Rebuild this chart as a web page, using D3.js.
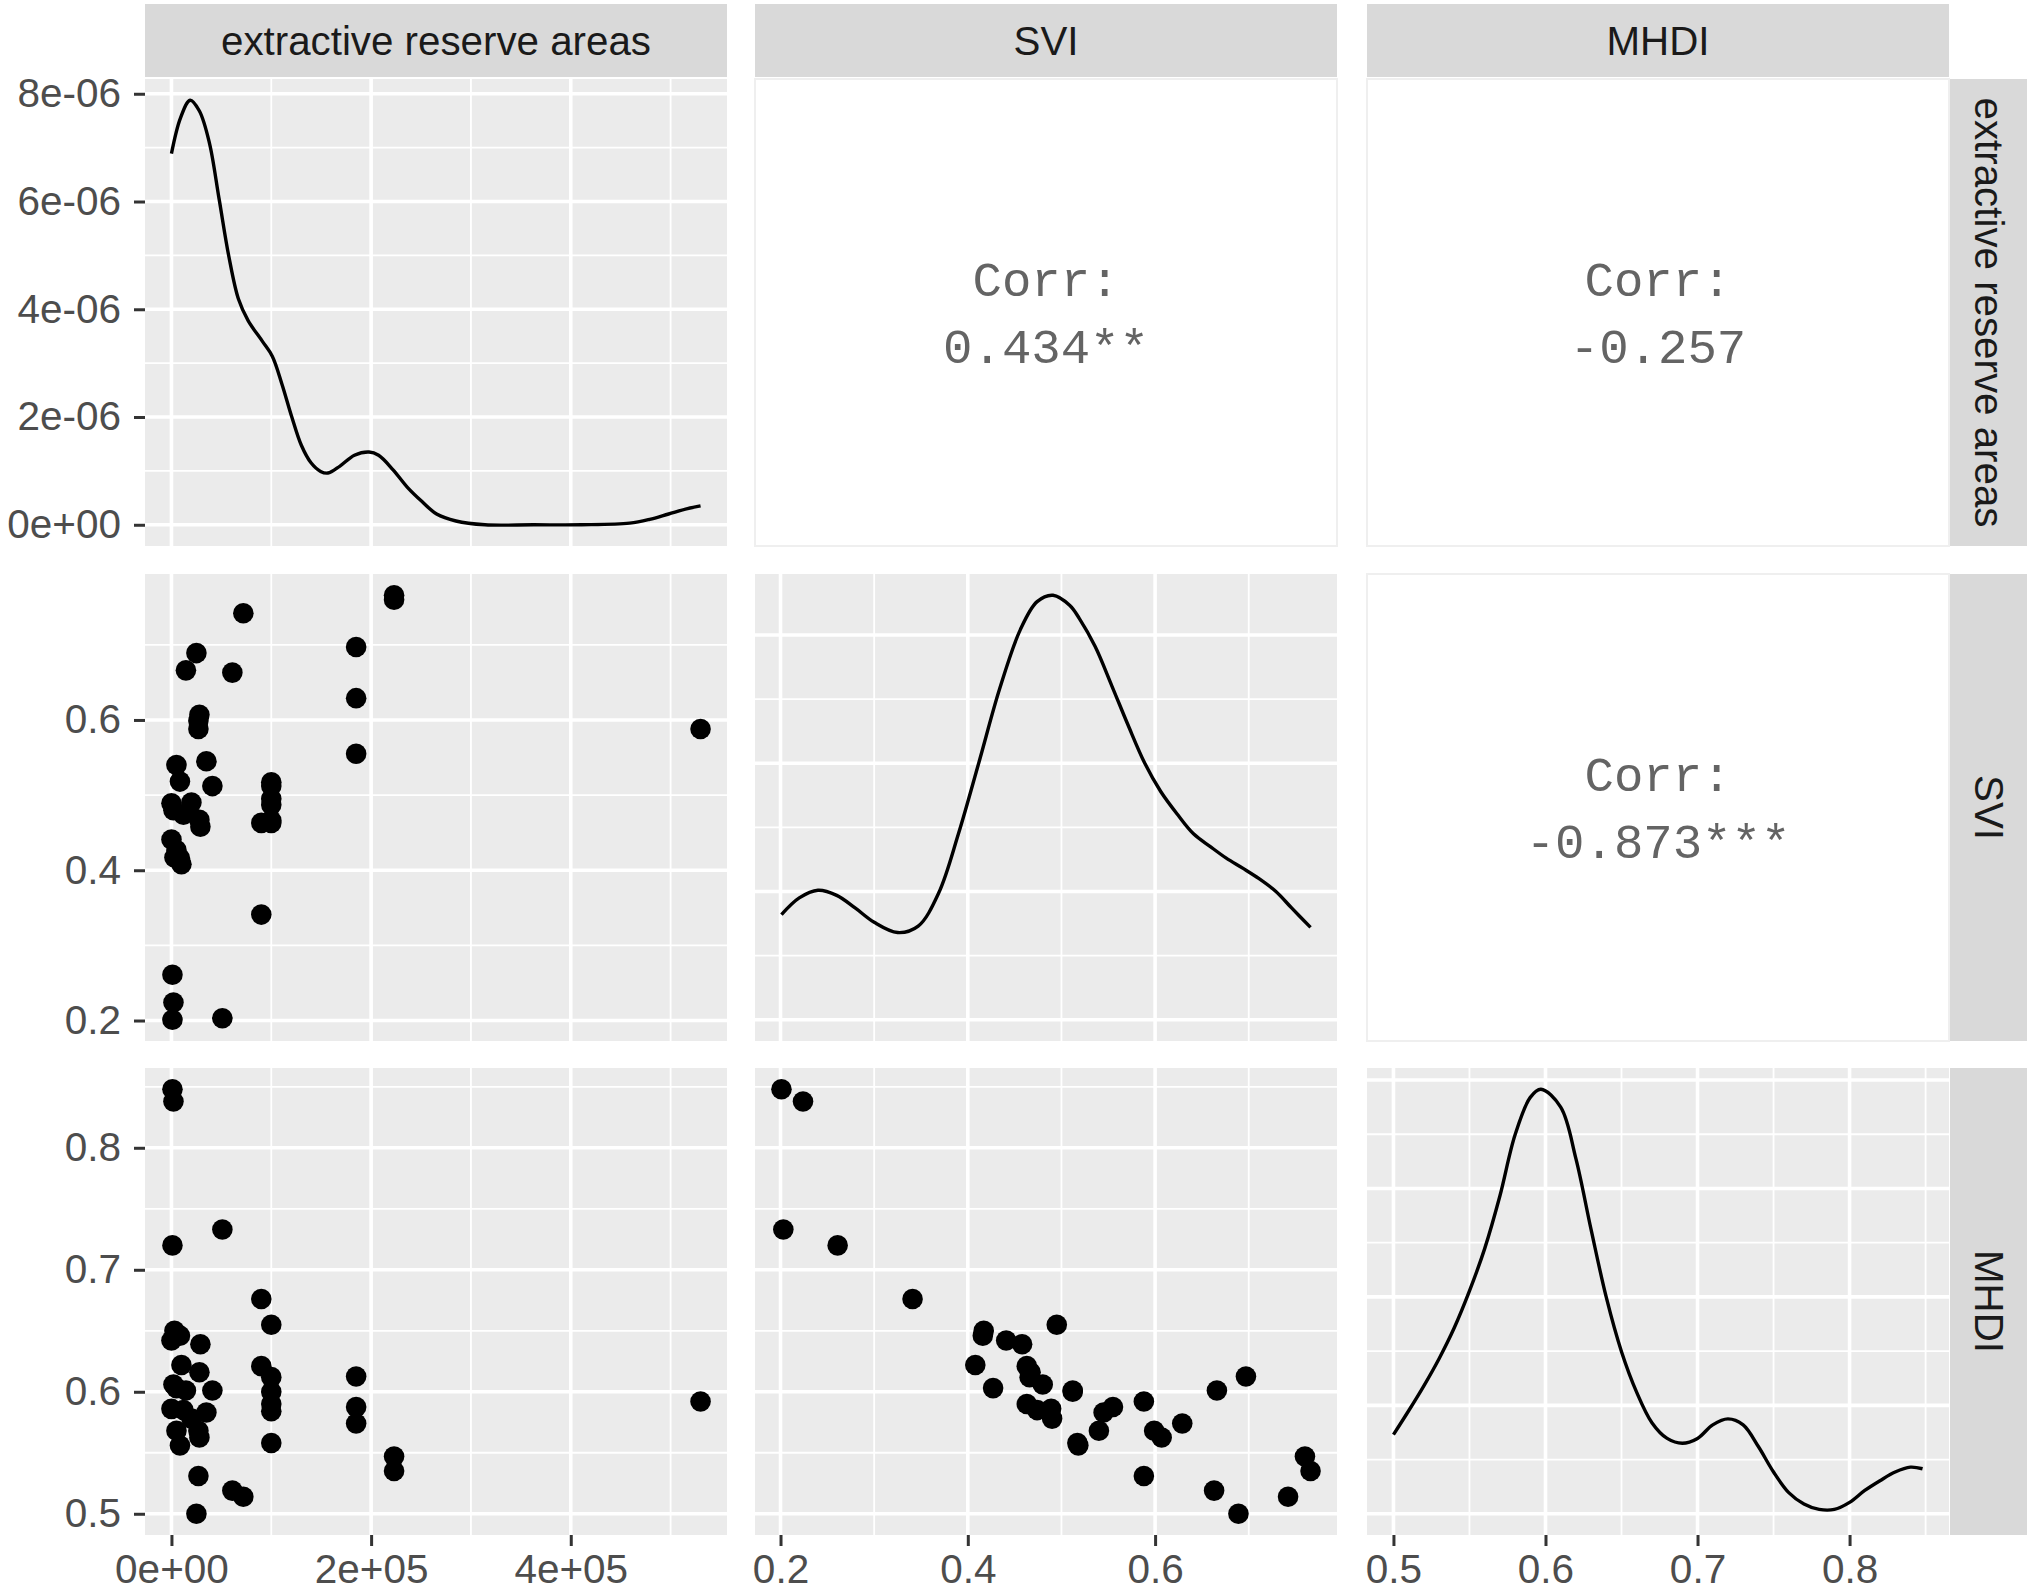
<!DOCTYPE html>
<html><head><meta charset="utf-8">
<script src="https://cdn.jsdelivr.net/npm/d3@7/dist/d3.min.js"></script>
<style>body{margin:0;background:#fff}svg{display:block}</style>
</head><body>
<svg id="chart" width="2033" height="1595"></svg>
<script>
// ---------------- DATA ----------------
const variables = ["extractive reserve areas", "SVI", "MHDI"];

const areaValues = [1000, 2000, 51000, 1000, 90000, 3000, 0, 29000, 100000, 10000,
  8500, 5000, 90000, 100000, 2000, 20000, 12000, 28000, 100000, 100000,
  100000, 100000, 41000, 35000, 5000, 8500, 185000, 185000, 185000, 530000,
  223000, 223000, 72000, 61000, 25000, 14500, 27000, 27000, 28000, 0];
const sviValues = [0.201, 0.224, 0.203, 0.261, 0.341, 0.417, 0.441, 0.458, 0.495, 0.408,
  0.416, 0.427, 0.463, 0.466, 0.480, 0.490, 0.474, 0.467, 0.512, 0.463,
  0.487, 0.517, 0.512, 0.545, 0.540, 0.518, 0.697, 0.629, 0.555, 0.588,
  0.760, 0.766, 0.742, 0.663, 0.689, 0.666, 0.588, 0.599, 0.607, 0.489];
const mhdiValues = [0.848, 0.838, 0.733, 0.720, 0.676, 0.650, 0.642, 0.639, 0.655, 0.622,
  0.646, 0.603, 0.621, 0.612, 0.606, 0.578, 0.585, 0.616, 0.600, 0.590,
  0.584, 0.558, 0.601, 0.583, 0.568, 0.556, 0.6125, 0.574, 0.5875, 0.592,
  0.547, 0.535, 0.514, 0.519, 0.500, 0.601, 0.531, 0.568, 0.5625, 0.586];

// density curves
const areaDensX = [0, 9000, 18700, 28000, 38000, 47800, 57500, 67100, 76800, 91300,
  101000, 110700, 120400, 130000, 139800, 149400, 156700, 168800, 183300, 197900,
  207500, 222000, 236600, 251000, 265600, 285000, 314000, 363000, 411000, 459000,
  479000, 498000, 517000, 530000];
const areaDensY = [6.89e-6, 7.55e-6, 7.88e-6, 7.68e-6, 7.09e-6, 6.04e-6, 4.98e-6, 4.19e-6, 3.79e-6, 3.40e-6,
  3.13e-6, 2.61e-6, 2.01e-6, 1.48e-6, 1.15e-6, 0.99e-6, 0.96e-6, 1.09e-6, 1.29e-6, 1.35e-6,
  1.29e-6, 1.02e-6, 0.69e-6, 0.43e-6, 0.20e-6, 0.07e-6, 0.0, 0.0, 0.0, 0.03e-6,
  0.10e-6, 0.20e-6, 0.30e-6, 0.35e-6];

const sviDensX = [0.201, 0.22, 0.24, 0.26, 0.28, 0.30, 0.325, 0.347, 0.369, 0.39,
  0.412, 0.434, 0.456, 0.474, 0.491, 0.509, 0.519, 0.536, 0.554, 0.571,
  0.589, 0.606, 0.624, 0.641, 0.659, 0.676, 0.694, 0.711, 0.729, 0.746, 0.766];
const sviDensY = [0.82, 0.95, 1.01, 0.97, 0.87, 0.76, 0.68, 0.73, 0.99, 1.45,
  2.01, 2.58, 3.04, 3.26, 3.31, 3.23, 3.13, 2.91, 2.60, 2.30,
  2.00, 1.78, 1.60, 1.45, 1.35, 1.26, 1.18, 1.10, 1.00, 0.87, 0.72];

const mhdiDensX = [0.500, 0.51, 0.52, 0.53, 0.54, 0.55, 0.56, 0.57, 0.58, 0.59,
  0.597, 0.61, 0.62, 0.63, 0.64, 0.65, 0.66, 0.67, 0.68, 0.69,
  0.70, 0.71, 0.72, 0.73, 0.74, 0.75, 0.76, 0.77, 0.78, 0.79,
  0.80, 0.81, 0.82, 0.83, 0.84, 0.848];
const mhdiDensY = [1.46, 1.90, 2.36, 2.86, 3.43, 4.11, 4.89, 5.86, 6.99, 7.68,
  7.83, 7.50, 6.55, 5.24, 3.99, 2.99, 2.24, 1.68, 1.39, 1.30,
  1.39, 1.64, 1.75, 1.64, 1.24, 0.77, 0.39, 0.18, 0.08, 0.08,
  0.21, 0.43, 0.61, 0.77, 0.86, 0.83];

// correlation text (upper panels): row, col, label
const corrRows = [0, 0, 1];
const corrCols = [1, 2, 2];
const corrLabels = ["0.434**", "-0.257", "-0.873***"];

// tick values and labels
const areaTicks = [0, 200000, 400000];
const areaTickLabels = ["0e+00", "2e+05", "4e+05"];
const areaMinor = [100000, 300000, 500000];
const sviTicks = [0.2, 0.4, 0.6];
const sviTickLabels = ["0.2", "0.4", "0.6"];
const sviMinor = [0.3, 0.5, 0.7];
const mhdiTicks = [0.5, 0.6, 0.7, 0.8];
const mhdiTickLabels = ["0.5", "0.6", "0.7", "0.8"];
const mhdiMinor = [0.55, 0.65, 0.75, 0.85];
const areaDensTicks = [0, 2e-6, 4e-6, 6e-6, 8e-6];
const areaDensTickLabels = ["0e+00", "2e-06", "4e-06", "6e-06", "8e-06"];
const areaDensMinor = [1e-6, 3e-6, 5e-6, 7e-6];
const sviDensTicks = [0, 1, 2, 3];
const sviDensMinor = [0.5, 1.5, 2.5];
const mhdiDensTicks = [0, 2, 4, 6, 8];
const mhdiDensMinor = [1, 3, 5, 7];

// ---------------- LAYOUT ----------------
const colX0 = [145, 755, 1367], panelW = 582;
const rowY0 = [79, 574, 1068], panelH = 467;
const stripTop = 4, stripH = 73;
const rStripX = 1950, rStripW = 77;
const FONT = "'Liberation Sans', Arial, Helvetica, sans-serif";
const STRIP_FS = 40.3, TICK_FS = 40.5;

const values = [areaValues, sviValues, mhdiValues];
const majors = [areaTicks, sviTicks, mhdiTicks];
const minors = [areaMinor, sviMinor, mhdiMinor];
const tickLabels = [areaTickLabels, sviTickLabels, mhdiTickLabels];
const densX = [areaDensX, sviDensX, mhdiDensX];
const densY = [areaDensY, sviDensY, mhdiDensY];
const densMajor = [areaDensTicks, sviDensTicks, mhdiDensTicks];
const densMinor = [areaDensMinor, sviDensMinor, mhdiDensMinor];

function expand(ext) { const r = ext[1] - ext[0]; return [ext[0] - 0.05 * r, ext[1] + 0.05 * r]; }

const xScales = values.map((v, j) => d3.scaleLinear().domain(expand(d3.extent(v))).range([colX0[j], colX0[j] + panelW]));
const yScales = values.map((v, i) => d3.scaleLinear().domain(expand(d3.extent(v))).range([rowY0[i] + panelH, rowY0[i]]));
const dScales = densY.map((v, i) => d3.scaleLinear().domain(expand([0, d3.max(v)])).range([rowY0[i] + panelH, rowY0[i]]));

const svg = d3.select("#chart");
svg.append("rect").attr("width", 2033).attr("height", 1595).attr("fill", "#fff");

function inDom(s, v) { const d = s.domain(); return v >= d[0] && v <= d[1]; }

for (let i = 0; i < 3; i++) {
  for (let j = 0; j < 3; j++) {
    const g = svg.append("g");
    const x0 = colX0[j], y0 = rowY0[i];
    if (i < j) {
      g.append("rect").attr("x", x0).attr("y", y0).attr("width", panelW).attr("height", panelH)
        .attr("fill", "#fff").attr("stroke", "#efefef").attr("stroke-width", 2);
      continue;
    }
    g.append("rect").attr("x", x0).attr("y", y0).attr("width", panelW).attr("height", panelH).attr("fill", "#EBEBEB");
    const xs = xScales[j];
    const ys = (i === j) ? dScales[i] : yScales[i];
    const yMaj = (i === j) ? densMajor[i] : majors[i];
    const yMin = (i === j) ? densMinor[i] : minors[i];
    // minor grid
    g.selectAll(null).data(minors[j].filter(v => inDom(xs, v))).enter().append("line")
      .attr("x1", d => xs(d)).attr("x2", d => xs(d)).attr("y1", y0).attr("y2", y0 + panelH)
      .attr("stroke", "#fff").attr("stroke-width", 1.8);
    g.selectAll(null).data(yMin.filter(v => inDom(ys, v))).enter().append("line")
      .attr("y1", d => ys(d)).attr("y2", d => ys(d)).attr("x1", x0).attr("x2", x0 + panelW)
      .attr("stroke", "#fff").attr("stroke-width", 1.8);
    // major grid
    g.selectAll(null).data(majors[j].filter(v => inDom(xs, v))).enter().append("line")
      .attr("x1", d => xs(d)).attr("x2", d => xs(d)).attr("y1", y0).attr("y2", y0 + panelH)
      .attr("stroke", "#fff").attr("stroke-width", 3.6);
    g.selectAll(null).data(yMaj.filter(v => inDom(ys, v))).enter().append("line")
      .attr("y1", d => ys(d)).attr("y2", d => ys(d)).attr("x1", x0).attr("x2", x0 + panelW)
      .attr("stroke", "#fff").attr("stroke-width", 3.6);

    if (i === j) {
      const pts = densX[i].map((x, k) => [x, densY[i][k]]);
      const line = d3.line().x(d => xs(d[0])).y(d => ys(d[1])).curve(d3.curveCatmullRom.alpha(0.5));
      g.append("path").attr("d", line(pts)).attr("fill", "none")
        .attr("stroke", "#000").attr("stroke-width", 3.4).attr("stroke-linejoin", "round");
    } else {
      const pts = values[j].map((x, k) => [x, values[i][k]]);
      g.selectAll(null).data(pts).enter().append("circle")
        .attr("cx", d => xs(d[0])).attr("cy", d => ys(d[1])).attr("r", 10.3).attr("fill", "#000");
    }
  }
}

// correlation text
corrLabels.forEach((lab, k) => {
  const i = corrRows[k], j = corrCols[k];
  const cx = colX0[j] + panelW / 2, cy = rowY0[i] + panelH / 2;
  const t = svg.append("text").attr("x", cx).attr("text-anchor", "middle")
    .attr("font-family", "'Courier New', 'Liberation Mono', monospace").attr("font-size", 49)
    .attr("fill", "#646464");
  t.append("tspan").attr("x", cx).attr("y", cy - 33.5 + 17).text("Corr:");
  t.append("tspan").attr("x", cx).attr("y", cy + 33.5 + 17).text(lab);
});

// strips
variables.forEach((name, j) => {
  svg.append("rect").attr("x", colX0[j]).attr("y", stripTop).attr("width", panelW).attr("height", stripH).attr("fill", "#D9D9D9");
  svg.append("text").attr("x", colX0[j] + panelW / 2).attr("y", stripTop + stripH / 2 + 14)
    .attr("text-anchor", "middle").attr("font-family", FONT).attr("font-size", STRIP_FS).attr("fill", "#1A1A1A").text(name);
});
variables.forEach((name, i) => {
  svg.append("rect").attr("x", rStripX).attr("y", rowY0[i]).attr("width", rStripW).attr("height", panelH).attr("fill", "#D9D9D9");
  svg.append("text").attr("transform", `translate(${rStripX + rStripW / 2 - 14},${rowY0[i] + panelH / 2}) rotate(90)`)
    .attr("text-anchor", "middle").attr("font-family", FONT).attr("font-size", STRIP_FS).attr("fill", "#1A1A1A").text(name);
});

// axes
function styleAxis(g) {
  g.select(".domain").remove();
  g.selectAll(".tick line").attr("stroke", "#333333").attr("stroke-width", 3);
  g.selectAll(".tick text").attr("font-family", FONT).attr("font-size", TICK_FS).attr("fill", "#4D4D4D");
}
for (let i = 0; i < 3; i++) {
  const scale = i === 0 ? dScales[0] : yScales[i];
  const tv = i === 0 ? areaDensTicks : majors[i];
  const tl = i === 0 ? areaDensTickLabels : tickLabels[i];
  const ax = d3.axisLeft(scale).tickValues(tv).tickFormat((d, k) => tl[k]).tickSize(11).tickPadding(13);
  svg.append("g").attr("transform", `translate(${colX0[0]},0)`).call(ax).call(styleAxis);
}
for (let j = 0; j < 3; j++) {
  const ax = d3.axisBottom(xScales[j]).tickValues(majors[j]).tickFormat((d, k) => tickLabels[j][k]).tickSize(11).tickPadding(8);
  svg.append("g").attr("transform", `translate(0,${rowY0[2] + panelH})`).call(ax).call(styleAxis);
}
</script>
</body></html>
